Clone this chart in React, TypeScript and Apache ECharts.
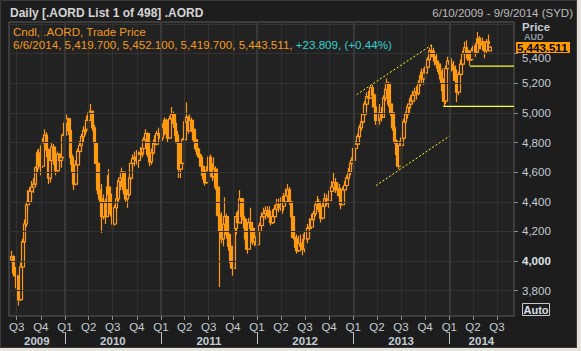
import React, { useEffect, useRef } from 'react';
import * as echarts from 'echarts';

// ---- data ----
const FIRST_WEEK = '2009-06-12'; // weekly candles (Friday of each week)
const AXIS_START = '2009-06-02';
const AXIS_END = '2014-09-04';

const OPEN = [
  4010, 4030, 3920, 3900, 3820, 3740, 3960, 4130, 4250, 4380, 4400, 4470, 4500, 4520, 4630, 4730, 4650, 4640, 4800, 4850,
  4750, 4560, 4680, 4770, 4690, 4610, 4720, 4680, 4700, 4850, 4930, 4960, 4880, 4700, 4600, 4520, 4650, 4740, 4780, 4840,
  4880, 4890, 4950, 5000, 5010, 4900, 4800, 4660, 4480, 4420, 4300, 4400, 4300, 4500, 4450, 4320, 4250, 4360, 4420, 4540,
  4560, 4600, 4480, 4420, 4450, 4560, 4660, 4690, 4700, 4680, 4720, 4730, 4760, 4820, 4860, 4720, 4670, 4730, 4800, 4790,
  4860, 4850, 4830, 4900, 4950, 4860, 4830, 4960, 4990, 4930, 4850, 4800, 4620, 4660, 4820, 4940, 4970, 4880, 4950, 4890,
  4820, 4760, 4720, 4700, 4640, 4580, 4530, 4610, 4700, 4630, 4570, 4620, 4500, 4310, 4200, 4150, 4250, 4300, 4180, 4100,
  3990, 3950, 4220, 4300, 4260, 4420, 4300, 4280, 4150, 4080, 4260, 4220, 4130, 4160, 4110, 4200, 4240, 4300, 4320, 4340,
  4310, 4300, 4260, 4300, 4350, 4380, 4360, 4380, 4370, 4400, 4440, 4480, 4400, 4300, 4160, 4150, 4070, 4120, 4100, 4080,
  4180, 4150, 4220, 4230, 4280, 4320, 4380, 4400, 4350, 4290, 4370, 4420, 4390, 4410, 4470, 4500, 4530, 4480, 4490, 4440,
  4380, 4480, 4510, 4560, 4600, 4660, 4680, 4760, 4790, 4840, 4900, 4940, 4990, 5060, 5110, 5100, 5170, 5120, 5040, 4950,
  4960, 5000, 4970, 5100, 5160, 5200, 5060, 5000, 4900, 4810, 4720, 4640, 4780, 4830, 4940, 4990, 5040, 5060, 5080, 5120,
  5140, 5130, 5200, 5250, 5230, 5270, 5310, 5360, 5420, 5400, 5380, 5350, 5330, 5280, 5230, 5150, 5080, 5300, 5350, 5330,
  5310, 5290, 5220, 5140, 5260, 5330, 5400, 5440, 5420, 5370, 5360, 5420, 5450, 5410, 5500, 5470, 5480, 5460, 5420, 5480,
  5419.7,
];
const HIGH = [
  4070, 4040, 3960, 3920, 3830, 3990, 4150, 4280, 4400, 4480, 4500, 4540, 4560, 4640, 4750, 4760, 4780, 4830, 4890, 4870,
  4760, 4700, 4800, 4790, 4720, 4740, 4730, 4740, 4860, 4950, 4990, 4970, 4890, 4720, 4650, 4680, 4760, 4810, 4860, 4910,
  4930, 4980, 5020, 5060, 5010, 4920, 4800, 4680, 4560, 4520, 4450, 4420, 4580, 4620, 4460, 4350, 4380, 4500, 4560, 4600,
  4630, 4600, 4520, 4480, 4580, 4680, 4720, 4740, 4750, 4740, 4770, 4790, 4840, 4890, 4870, 4750, 4760, 4820, 4850, 4880,
  4900, 4880, 4930, 4970, 4960, 4900, 4980, 5040, 5010, 4960, 4880, 4830, 4700, 4830, 4960, 5070, 4980, 4990, 4970, 4900,
  4850, 4790, 4760, 4720, 4660, 4620, 4640, 4720, 4720, 4660, 4700, 4640, 4500, 4350, 4330, 4280, 4430, 4320, 4250, 4130,
  4040, 4250, 4330, 4340, 4480, 4420, 4340, 4290, 4180, 4290, 4360, 4240, 4200, 4180, 4240, 4260, 4330, 4360, 4370, 4370,
  4370, 4340, 4350, 4380, 4420, 4420, 4430, 4440, 4460, 4490, 4520, 4500, 4400, 4300, 4230, 4180, 4170, 4180, 4150, 4200,
  4230, 4250, 4290, 4320, 4340, 4400, 4440, 4420, 4370, 4400, 4460, 4450, 4450, 4500, 4540, 4600, 4560, 4530, 4520, 4460,
  4500, 4540, 4580, 4630, 4680, 4700, 4780, 4810, 4860, 4920, 4960, 5010, 5080, 5140, 5150, 5180, 5190, 5130, 5060, 5000,
  5060, 5040, 5120, 5180, 5232, 5210, 5100, 5010, 4920, 4820, 4750, 4810, 4860, 4960, 5010, 5060, 5100, 5120, 5150, 5170,
  5180, 5220, 5280, 5300, 5300, 5340, 5380, 5440, 5460, 5440, 5420, 5400, 5350, 5320, 5300, 5200, 5320, 5380, 5390, 5370,
  5350, 5320, 5230, 5280, 5360, 5420, 5480, 5490, 5440, 5400, 5440, 5480, 5470, 5547, 5520, 5510, 5510, 5480, 5500, 5530,
  5452.1,
];
const LOW = [
  3990, 3900, 3850, 3800, 3700, 3730, 3950, 4120, 4230, 4330, 4380, 4420, 4460, 4510, 4600, 4620, 4580, 4630, 4780, 4700,
  4520, 4530, 4650, 4650, 4580, 4600, 4640, 4630, 4700, 4840, 4900, 4850, 4650, 4580, 4480, 4510, 4640, 4700, 4760, 4800,
  4850, 4870, 4930, 4960, 4880, 4760, 4620, 4450, 4400, 4190, 4280, 4250, 4300, 4400, 4300, 4210, 4240, 4330, 4400, 4480,
  4500, 4450, 4400, 4360, 4440, 4550, 4630, 4640, 4650, 4630, 4680, 4700, 4720, 4780, 4700, 4640, 4650, 4720, 4760, 4780,
  4820, 4800, 4810, 4850, 4830, 4800, 4830, 4930, 4900, 4820, 4780, 4560, 4560, 4660, 4820, 4930, 4860, 4880, 4870, 4800,
  4740, 4700, 4680, 4620, 4550, 4510, 4520, 4610, 4600, 4540, 4560, 4480, 4300, 3824, 4120, 4100, 4220, 4150, 4070, 3950,
  3900, 3950, 4180, 4230, 4260, 4250, 4220, 4120, 4050, 4080, 4200, 4110, 4100, 4090, 4110, 4160, 4220, 4280, 4280, 4290,
  4260, 4240, 4250, 4280, 4330, 4330, 4340, 4320, 4340, 4380, 4420, 4380, 4280, 4150, 4090, 4050, 4060, 4080, 4040, 4060,
  4120, 4120, 4180, 4220, 4260, 4300, 4350, 4330, 4260, 4280, 4360, 4370, 4360, 4400, 4440, 4480, 4460, 4440, 4420, 4350,
  4380, 4470, 4500, 4540, 4580, 4620, 4680, 4730, 4780, 4830, 4880, 4930, 4980, 5030, 5060, 5100, 5080, 5000, 4920, 4900,
  4920, 4940, 4970, 5080, 5100, 5040, 4980, 4880, 4790, 4680, 4620, 4640, 4750, 4820, 4920, 4960, 5000, 5030, 5060, 5080,
  5090, 5120, 5180, 5200, 5190, 5240, 5290, 5350, 5380, 5350, 5320, 5300, 5260, 5200, 5120, 5040, 5060, 5290, 5300, 5280,
  5260, 5200, 5074, 5120, 5250, 5320, 5370, 5400, 5350, 5320, 5350, 5400, 5380, 5400, 5430, 5430, 5420, 5370, 5400, 5440,
  5419.7,
];
const CLOSE = [
  4030, 3920, 3900, 3820, 3740, 3960, 4130, 4250, 4380, 4400, 4470, 4500, 4520, 4630, 4730, 4650, 4640, 4800, 4850, 4750,
  4560, 4680, 4770, 4690, 4610, 4720, 4680, 4700, 4850, 4930, 4960, 4880, 4700, 4600, 4520, 4650, 4740, 4780, 4840, 4880,
  4890, 4950, 5000, 5010, 4900, 4800, 4660, 4480, 4420, 4300, 4400, 4300, 4500, 4450, 4320, 4250, 4360, 4420, 4540, 4560,
  4600, 4480, 4420, 4450, 4560, 4660, 4690, 4700, 4680, 4720, 4730, 4760, 4820, 4860, 4720, 4670, 4730, 4800, 4790, 4860,
  4850, 4830, 4900, 4950, 4860, 4830, 4960, 4990, 4930, 4850, 4800, 4620, 4660, 4820, 4940, 4970, 4880, 4950, 4890, 4820,
  4760, 4720, 4700, 4640, 4580, 4530, 4610, 4700, 4630, 4570, 4620, 4500, 4310, 4200, 4150, 4250, 4300, 4180, 4100, 3990,
  3950, 4220, 4300, 4260, 4420, 4300, 4280, 4150, 4080, 4260, 4220, 4130, 4160, 4110, 4200, 4240, 4300, 4320, 4340, 4310,
  4300, 4260, 4300, 4350, 4380, 4360, 4380, 4370, 4400, 4440, 4480, 4400, 4300, 4160, 4150, 4070, 4120, 4100, 4080, 4180,
  4150, 4220, 4230, 4280, 4320, 4380, 4400, 4350, 4290, 4370, 4420, 4390, 4410, 4470, 4500, 4530, 4480, 4490, 4440, 4380,
  4480, 4510, 4560, 4600, 4660, 4680, 4760, 4790, 4840, 4900, 4940, 4990, 5060, 5110, 5100, 5170, 5120, 5040, 4950, 4960,
  5000, 4970, 5100, 5160, 5200, 5060, 5000, 4900, 4810, 4720, 4640, 4780, 4830, 4940, 4990, 5040, 5060, 5080, 5120, 5140,
  5130, 5200, 5250, 5230, 5270, 5310, 5360, 5420, 5400, 5380, 5350, 5330, 5280, 5230, 5150, 5080, 5300, 5350, 5330, 5310,
  5290, 5220, 5140, 5260, 5330, 5400, 5440, 5420, 5370, 5360, 5420, 5450, 5410, 5500, 5470, 5480, 5460, 5420, 5480, 5470,
  5443.511,
];

const PRICE_MIN = 3629;
const PRICE_MAX = 5614;
const PRICE_TICKS = [3800, 4000, 4200, 4400, 4600, 4800, 5000, 5200, 5400];
const PRICE_GRID = [3800, 4000, 4200, 4400, 4600, 4800, 5000, 5200, 5400, 5600];
const BOLD_TICK = 4000;

const QUARTERS = [
  '2009-07-01', '2009-10-01',
  '2010-01-01', '2010-04-01', '2010-07-01', '2010-10-01',
  '2011-01-01', '2011-04-01', '2011-07-01', '2011-10-01',
  '2012-01-01', '2012-04-01', '2012-07-01', '2012-10-01',
  '2013-01-01', '2013-04-01', '2013-07-01', '2013-10-01',
  '2014-01-01', '2014-04-01', '2014-07-01',
];
const YEAR_STARTS = ['2010-01-01', '2011-01-01', '2012-01-01', '2013-01-01', '2014-01-01'];
const YEAR_LABEL_AT = ['2009-09-16', '2010-07-02', '2011-07-02', '2012-07-02', '2013-07-02', '2014-05-03'];

const CHANNEL_UPPER: [string, number][] = [['2013-01-14', 5124], ['2013-10-26', 5459]];
const CHANNEL_LOWER: [string, number][] = [['2013-03-28', 4509], ['2014-01-01', 4843]];
const SUPPORT_1: [string, number][] = [['2013-12-09', 5044], [AXIS_END, 5044]];
const SUPPORT_2: [string, number][] = [['2014-03-20', 5316], [AXIS_END, 5316]];

const TITLE = 'Daily [.AORD List 1 of 498] .AORD';
const RANGE_TEXT = '6/10/2009 - 9/9/2014 (SYD)';
const LEGEND_1 = 'Cndl, .AORD, Trade Price';
const LEGEND_2 = '6/6/2014, 5,419.700, 5,452.100, 5,419.700, 5,443.511, ';
const LEGEND_CHANGE = '+23.809, (+0.44%)';
const LAST_PRICE = 5443.511;
const LAST_PRICE_TEXT = '5,443.511';

// ---- helpers ----
const ts = (s: string) => {
  const [y, m, d] = s.split('-').map(Number);
  return Date.UTC(y, m - 1, d);
};
const DAY = 86400000;
const fmt = (v: number) => String(v).replace(/\B(?=(\d{3})+(?!\d))/g, ',');

const ORANGE = '#ff9a10';
const AXIS_TEXT = '#c4ccd4';
const FONT = '"Liberation Sans", Arial, sans-serif';

export default function App() {
  const ref = useRef<HTMLDivElement>(null);

  useEffect(() => {
    if (!ref.current) return;
    const chart = echarts.init(ref.current, undefined, { renderer: 'svg' });
    const t0 = ts(FIRST_WEEK);
    const candles = OPEN.map((o, i) => [t0 + i * 7 * DAY, o, CLOSE[i], LOW[i], HIGH[i]]);
    const tMin = ts(AXIS_START);
    const tMax = ts(AXIS_END);
    const quarterTs = QUARTERS.map(ts);
    const yearStartTs = YEAR_STARTS.map(ts);

    const gridLines: any[] = [
      ...PRICE_GRID.map((v) => ({ yAxis: v })),
      ...quarterTs.map((q) => {
        const isYear = new Date(q).getUTCMonth() === 0;
        return isYear
          ? { xAxis: q, lineStyle: { color: '#383838', width: 2, type: 'solid' } }
          : { xAxis: q };
      }),
    ];

    const trend = (pts: [string, number][], dashed: boolean, name: string) => ({
      name,
      type: 'line',
      data: pts.map(([d, v]) => [ts(d), v]),
      symbol: 'none',
      showSymbol: false,
      silent: true,
      z: 5,
      lineStyle: { color: '#ffff2a', width: dashed ? 1 : 1.3, type: dashed ? [2, 2] : 'solid' },
    });

    const option: any = {
      animation: false,
      backgroundColor: '#1d1d1d',
      textStyle: { fontFamily: FONT },
      grid: {
        left: 9,
        right: 63,
        top: 22,
        bottom: 32,
        show: true,
        backgroundColor: '#222222',
        borderColor: '#5a5a5a',
        borderWidth: 1,
        containLabel: false,
        outerBoundsMode: 'none',
      },
      xAxis: [
        {
          type: 'value',
          min: tMin,
          max: tMax,
          position: 'bottom',
          axisLine: { show: false },
          axisTick: { show: true, customValues: quarterTs, length: 4, lineStyle: { color: '#8a9299' } },
          axisLabel: {
            customValues: quarterTs,
            formatter: (v: number) => 'Q' + (Math.floor(new Date(v).getUTCMonth() / 3) + 1),
            color: AXIS_TEXT,
            fontSize: 11.5,
            fontFamily: FONT,
            margin: 5,
          },
          splitLine: { show: false },
        },
        {
          type: 'value',
          min: tMin,
          max: tMax,
          position: 'bottom',
          offset: 16,
          axisLine: { show: false },
          axisTick: { show: true, customValues: yearStartTs, length: 12, lineStyle: { color: '#bfc4c9' } },
          axisLabel: {
            customValues: YEAR_LABEL_AT.map(ts),
            formatter: (v: number) => String(new Date(v).getUTCFullYear()),
            color: AXIS_TEXT,
            fontSize: 11.5,
            fontWeight: 'bold',
            fontFamily: FONT,
            margin: 3,
          },
          splitLine: { show: false },
        },
      ],
      yAxis: {
        type: 'value',
        position: 'right',
        min: PRICE_MIN,
        max: PRICE_MAX,
        axisLine: { show: false },
        axisTick: { show: true, customValues: PRICE_TICKS, length: 4, lineStyle: { color: '#8a9299' } },
        axisLabel: {
          customValues: PRICE_TICKS,
          color: AXIS_TEXT,
          fontSize: 11.5,
          fontFamily: FONT,
          margin: 8,
          formatter: (v: number) =>
            v === BOLD_TICK ? '{b|' + fmt(v) + '}' : v === PRICE_TICKS[PRICE_TICKS.length - 1] ? '{s|' + fmt(v) + '}' : fmt(v),
          rich: {
            b: { fontWeight: 'bold', color: '#dde3e8', fontSize: 11.5, fontFamily: FONT },
            s: { padding: [9, 0, 0, 0], color: AXIS_TEXT, fontSize: 11.5, fontFamily: FONT },
          },
        },
        splitLine: { show: false },
      },
      series: [
        {
          name: 'grid',
          type: 'line',
          data: [],
          z: 1,
          silent: true,
          markLine: {
            silent: true,
            symbol: ['none', 'none'],
            label: { show: false },
            lineStyle: { color: '#323232', width: 1, type: 'solid' },
            data: gridLines,
            animation: false,
          },
        },
        {
          name: '.AORD',
          type: 'candlestick',
          data: candles,
          encode: { x: 0, y: [1, 2, 3, 4] },
          barWidth: 3.2,
          z: 3,
          silent: true,
          itemStyle: {
            color: '#222222',
            color0: ORANGE,
            borderColor: ORANGE,
            borderColor0: ORANGE,
            borderWidth: 1.2,
          },
        },
        trend(CHANNEL_UPPER, true, 'upper'),
        trend(CHANNEL_LOWER, true, 'lower'),
        trend(SUPPORT_1, false, 's1'),
        trend(SUPPORT_2, false, 's2'),
      ],
    };
    chart.setOption(option);

    const py = chart.convertToPixel({ yAxisIndex: 0 }, LAST_PRICE) as number;
    chart.setOption({
      graphic: {
        elements: [
          {
            type: 'rect',
            shape: { x: 0.5, y: 0.5, width: 576, height: 347 },
            style: { fill: 'none', stroke: '#3a3a3a', lineWidth: 1 },
            silent: true,
          },
          {
            type: 'text',
            x: 10,
            y: 12.5,
            style: { text: TITLE, fill: '#d4d4d4', font: 'bold 12px ' + FONT, verticalAlign: 'middle' },
          },
          {
            type: 'text',
            x: 573,
            y: 12.5,
            style: { text: RANGE_TEXT, fill: '#bcbcbc', font: '11.5px ' + FONT, align: 'right', verticalAlign: 'middle' },
          },
          {
            type: 'text',
            x: 13,
            y: 31,
            z: 10,
            style: { text: LEGEND_1, fill: '#f29a1e', font: '11.6px ' + FONT, verticalAlign: 'middle' },
          },
          {
            type: 'text',
            x: 13,
            y: 44,
            z: 10,
            style: {
              text: '{o|' + LEGEND_2 + '}{c|' + LEGEND_CHANGE + '}',
              font: '11.6px ' + FONT,
              verticalAlign: 'middle',
              rich: {
                o: { fill: '#f29a1e', font: '11.6px ' + FONT },
                c: { fill: '#33d0d0', font: '11.6px ' + FONT },
              },
            },
          },
          {
            type: 'text',
            x: 522,
            y: 27,
            style: { text: 'Price', fill: AXIS_TEXT, font: 'bold 11.5px ' + FONT, verticalAlign: 'middle' },
          },
          {
            type: 'text',
            x: 524,
            y: 37,
            style: { text: 'AUD', fill: '#8f979f', font: 'bold 9px ' + FONT, verticalAlign: 'middle' },
          },
          {
            type: 'rect',
            z: 20,
            shape: { x: 516, y: Math.round(py) - 5, width: 54, height: 11 },
            style: { fill: '#ff9a00' },
          },
          {
            type: 'text',
            z: 21,
            x: 517,
            y: Math.round(py) + 0.5,
            style: { text: LAST_PRICE_TEXT, fill: '#000000', font: 'bold 11.5px ' + FONT, verticalAlign: 'middle' },
          },
          {
            type: 'rect',
            shape: { x: 522.5, y: 303.5, width: 27, height: 12 },
            style: { fill: 'none', stroke: '#c8c8c8', lineWidth: 1 },
          },
          {
            type: 'text',
            x: 536,
            y: 310,
            style: { text: 'Auto', fill: '#d8dde3', font: 'bold 11px ' + FONT, align: 'center', verticalAlign: 'middle' },
          },
        ],
      },
    });

    return () => chart.dispose();
  }, []);

  return (
    <div style={{ position: 'fixed', left: 0, top: 0, width: 581, height: 351, background: '#e6e6de' }}>
      <div ref={ref} style={{ position: 'absolute', left: 0, top: 0, width: 577, height: 348 }} />
    </div>
  );
}
